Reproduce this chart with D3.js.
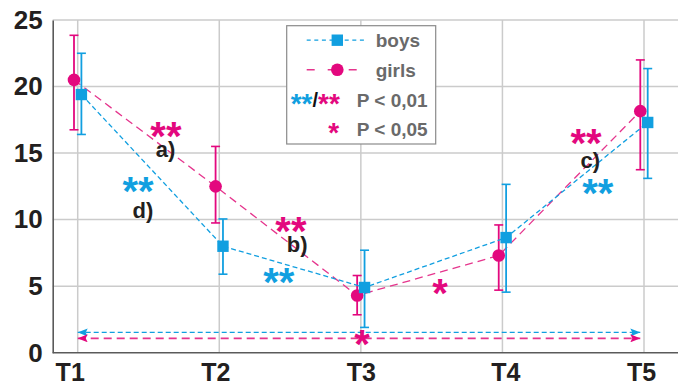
<!DOCTYPE html>
<html>
<head>
<meta charset="utf-8">
<script src="https://cdn.jsdelivr.net/npm/d3@7"></script>
<style>
  html, body { margin: 0; padding: 0; background: #fff; }
  svg { display: block; }
  text { font-family: "Liberation Sans", Arial, sans-serif; font-weight: bold; }
</style>
</head>
<body>
<svg id="chart" width="678" height="387"></svg>
<script>
// Measurement points
const categories = ["T1", "T2", "T3", "T4", "T5"];

// Mean values with lower / upper error limits
const boysMean  = [19.4, 8.0, 4.9, 8.65, 17.3];
const boysLow   = [16.4, 5.9, 1.9, 4.55, 13.1];
const boysHigh  = [22.5, 10.05, 7.7, 12.65, 21.35];

const girlsMean = [20.5, 12.5, 4.3, 7.3, 18.15];
const girlsLow  = [16.75, 9.75, 2.85, 4.7, 13.75];
const girlsHigh = [23.85, 15.5, 5.8, 9.6, 22.0];

const yTicks = [0, 5, 10, 15, 20, 25];

// Baseline comparison arrows (T1 -> T5)
const arrowBoysLevel = 1.52;
const arrowGirlsLevel = 1.08;

const BLUE = "#119fe0";
const PINK = "#e3087e";
const PINK_LINE = "#e5358d";
const TEXT = "#231f20";
const LEGEND_TEXT = "#6a6a6a";

const svg = d3.select("#chart");
const W = 678;
const plotLeft = 52.7, plotBottom = 352.7, plotTop = 20;

const x = d3.scalePoint().domain(categories).range([77.7, 644]);
const y = d3.scaleLinear().domain([0, 25]).range([plotBottom, plotTop]);
const off = 3.7;

// grid
const grid = svg.append("g");
grid.selectAll("line.h").data(yTicks.filter(d => d > 0)).join("line")
  .attr("x1", plotLeft).attr("x2", W)
  .attr("y1", d => y(d)).attr("y2", d => y(d))
  .attr("stroke", "#cbcbcb").attr("stroke-width", 1.5);
grid.selectAll("line.v").data(categories).join("line")
  .attr("x1", d => x(d)).attr("x2", d => x(d))
  .attr("y1", plotTop).attr("y2", plotBottom)
  .attr("stroke", "#cbcbcb").attr("stroke-width", 1.5);

// axes
const yAxis = d3.axisLeft(y).tickValues(yTicks).tickSize(0).tickPadding(10);
const yg = svg.append("g").attr("transform", `translate(${plotLeft},0)`).call(yAxis);
yg.select(".domain").attr("stroke", "#5a5a5a").attr("stroke-width", 1.6);
yg.selectAll("text").attr("font-size", 26).attr("fill", TEXT)
  .attr("font-family", "'Liberation Sans', Arial, sans-serif").attr("font-weight", "bold");

const labelNudge = [-8, -4, 0, 3, -3];
const xAxis = d3.axisBottom(x).tickSize(0).tickPadding(11);
const xg = svg.append("g").attr("transform", `translate(0,${plotBottom})`).call(xAxis);
xg.select(".domain").attr("d", `M${plotLeft},0H${W}`).attr("stroke", "#5a5a5a").attr("stroke-width", 1.6);
xg.selectAll("text").attr("font-size", 25).attr("fill", TEXT)
  .attr("font-family", "'Liberation Sans', Arial, sans-serif").attr("font-weight", "bold")
  .attr("dx", (d, i) => labelNudge[i]);

// series
function series(mean, low, high, dx, color, lineColor, dash, shape) {
  const g = svg.append("g");
  const line = d3.line().x((d, i) => x(categories[i]) + dx).y(d => y(d));
  g.append("path").attr("d", line(mean)).attr("fill", "none")
    .attr("stroke", lineColor).attr("stroke-width", 1.3).attr("stroke-dasharray", dash);
  const idx = d3.range(mean.length);
  g.selectAll("line.err").data(idx).join("line")
    .attr("x1", i => x(categories[i]) + dx).attr("x2", i => x(categories[i]) + dx)
    .attr("y1", i => y(low[i])).attr("y2", i => y(high[i]))
    .attr("stroke", color).attr("stroke-width", 1.8);
  [low, high].forEach(arr => {
    g.selectAll(null).data(idx).join("line")
      .attr("x1", i => x(categories[i]) + dx - 4.5).attr("x2", i => x(categories[i]) + dx + 4.5)
      .attr("y1", i => y(arr[i])).attr("y2", i => y(arr[i]))
      .attr("stroke", color).attr("stroke-width", 1.6);
  });
  g.selectAll("path.pt").data(idx).join("path")
    .attr("transform", i => `translate(${x(categories[i]) + dx},${y(mean[i])})`)
    .attr("d", d3.symbol().type(shape).size(shape === d3.symbolSquare ? 130 : 125))
    .attr("fill", color);
}
series(girlsMean, girlsLow, girlsHigh, -off, PINK, PINK_LINE, "8,5", d3.symbolCircle);
series(boysMean, boysLow, boysHigh, off, BLUE, BLUE, "5,3", d3.symbolSquare);

// double arrows
const defs = svg.append("defs");
function marker(id, color) {
  defs.append("marker").attr("id", id).attr("viewBox", "0 0 10 8")
    .attr("refX", 10).attr("refY", 4).attr("markerWidth", 10).attr("markerHeight", 8)
    .attr("markerUnits", "userSpaceOnUse").attr("orient", "auto-start-reverse")
    .append("path").attr("d", "M0,0L10,4L0,8L2,4Z").attr("fill", color);
}
marker("arB", BLUE);
marker("arP", PINK);
svg.append("line").attr("x1", x("T1")).attr("x2", x("T5") - off)
  .attr("y1", y(arrowBoysLevel)).attr("y2", y(arrowBoysLevel))
  .attr("stroke", BLUE).attr("stroke-width", 1.3).attr("stroke-dasharray", "5,3")
  .attr("marker-start", "url(#arB)").attr("marker-end", "url(#arB)");
svg.append("line").attr("x1", x("T1")).attr("x2", x("T5") - off)
  .attr("y1", y(arrowGirlsLevel)).attr("y2", y(arrowGirlsLevel))
  .attr("stroke", PINK_LINE).attr("stroke-width", 1.6).attr("stroke-dasharray", "8,5")
  .attr("marker-start", "url(#arP)").attr("marker-end", "url(#arP)");

// significance marks: position given as (category position, value)
const STAR_SIZE = 40;
function stars(text, pos, val, color) {
  svg.append("text").attr("x", x(categories[0]) + pos * x.step()).attr("y", y(val) + 0.5 * STAR_SIZE)
    .attr("text-anchor", "middle").attr("font-size", STAR_SIZE).attr("fill", color).text(text);
}
function tag(text, pos, val) {
  svg.append("text").attr("x", x(categories[0]) + pos * x.step()).attr("y", y(val))
    .attr("text-anchor", "middle").attr("font-size", 22).attr("fill", TEXT).text(text);
}
stars("**", 0.623, 16.75, PINK);
stars("**", 0.426, 12.6, BLUE);
stars("**", 1.506, 9.6, PINK);
stars("**", 1.42, 5.75, BLUE);
stars("*", 2.56, 4.95, PINK);
stars("*", 2.008, 1.1, PINK);
stars("**", 3.59, 16.2, PINK);
stars("**", 3.674, 12.45, BLUE);
tag("a)", 0.62, 14.7);
tag("d)", 0.46, 10.1);
tag("b)", 1.55, 7.55);
tag("c)", 3.62, 13.85);

// legend
const lg = svg.append("g").attr("transform", "translate(286.7,25.7)");
lg.append("rect").attr("width", 149).attr("height", 118.3)
  .attr("fill", "#fff").attr("stroke", "#8a8a8a").attr("stroke-width", 1.2);
lg.append("line").attr("x1", 20).attr("x2", 80).attr("y1", 14.5).attr("y2", 14.5)
  .attr("stroke", BLUE).attr("stroke-width", 1.3).attr("stroke-dasharray", "4,3.6");
lg.append("path").attr("transform", "translate(50.6,14.5)")
  .attr("d", d3.symbol().type(d3.symbolSquare).size(130)).attr("fill", BLUE);
lg.append("line").attr("x1", 20).attr("x2", 80).attr("y1", 44).attr("y2", 44)
  .attr("stroke", PINK_LINE).attr("stroke-width", 1.6).attr("stroke-dasharray", "8,13");
lg.append("path").attr("transform", "translate(50.6,44)")
  .attr("d", d3.symbol().type(d3.symbolCircle).size(125)).attr("fill", PINK);
lg.append("text").attr("x", 89).attr("y", 21).attr("font-size", 19).attr("fill", LEGEND_TEXT).text("boys");
lg.append("text").attr("x", 89).attr("y", 51).attr("font-size", 19).attr("fill", LEGEND_TEXT).text("girls");
lg.append("text").attr("x", 70).attr("y", 81).attr("font-size", 19).attr("fill", LEGEND_TEXT).text("P < 0,01");
lg.append("text").attr("x", 70).attr("y", 110).attr("font-size", 19).attr("fill", LEGEND_TEXT).text("P < 0,05");
const ls = lg.append("text").attr("x", 4).attr("y", 87).attr("font-size", 28);
ls.append("tspan").attr("fill", BLUE).text("**");
ls.append("tspan").attr("fill", "#111").attr("font-size", 20).attr("dy", -6).text("/");
ls.append("tspan").attr("fill", PINK).attr("dy", 6).text("**");
lg.append("text").attr("x", 47).attr("y", 116).attr("text-anchor", "middle")
  .attr("font-size", 28).attr("fill", PINK).text("*");
</script>
</body>
</html>
